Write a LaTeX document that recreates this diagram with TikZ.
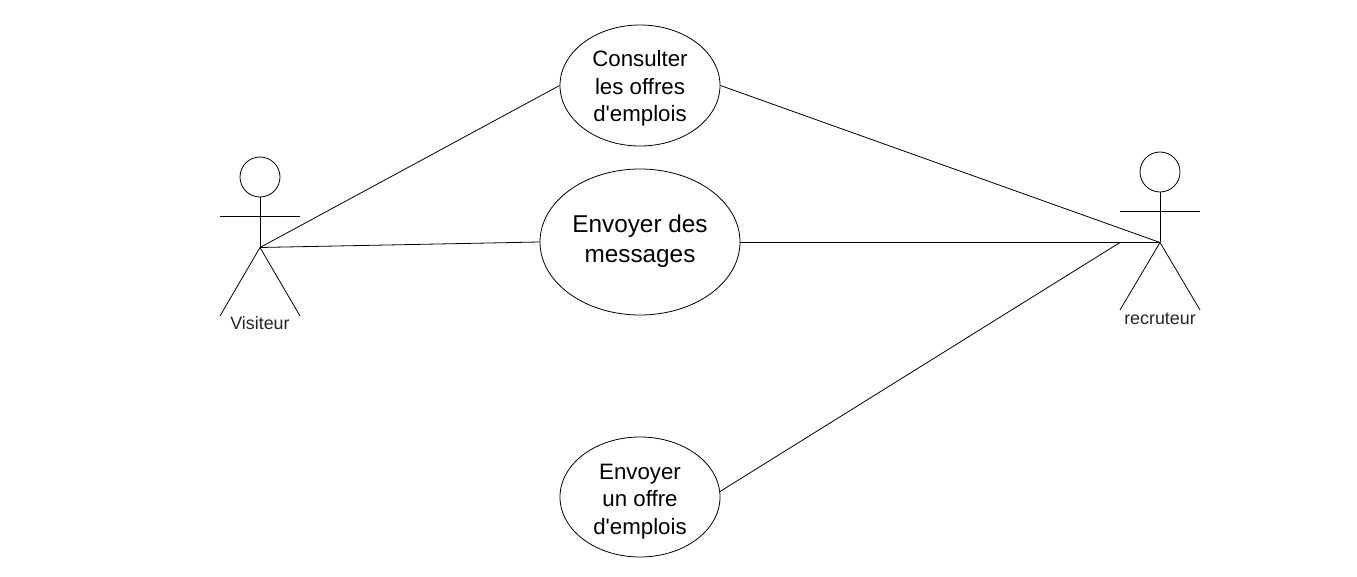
\documentclass[tikz,border=0pt]{standalone}
\usepackage{fontspec}
\setmainfont{Liberation Sans}
\usetikzlibrary{shapes.geometric}
\newcommand{\uctxt}[2]{\raisebox{#1}[0pt][0pt]{\begin{tabular}{@{}c@{}}#2\end{tabular}}}
\tikzset{x=0.75pt,y=-0.75pt,
  uc/.style={draw=black,line width=0.6pt,ellipse,inner sep=0pt,align=center,text=black},
  ln/.style={draw=black,line width=0.6pt},
  lbl/.style={font=\fontsize{13.4pt}{15pt}\selectfont,text=black!85,inner sep=0pt}}
\begin{document}
\begin{tikzpicture}
\useasboundingbox (0,0) rectangle (1357,577);
\node[uc,minimum width=120pt,minimum height=90.75pt,font=\fontsize{16.7pt}{20.5pt}\selectfont] (c) at (640,85.5) {\uctxt{-6.75pt}{Consulter\\les offres\\d\textquotesingle emplois}};
\node[uc,minimum width=150pt,minimum height=109.5pt,font=\fontsize{18.25pt}{22.5pt}\selectfont] (m) at (640,242) {\uctxt{-3.75pt}{Envoyer des\\messages}};
\node[uc,minimum width=120pt,minimum height=90pt,font=\fontsize{16.7pt}{20.5pt}\selectfont] (o) at (640,497) {\uctxt{-7.5pt}{Envoyer\\un offre\\d\textquotesingle emplois}};
% Visiteur
\node[ln,draw,circle,minimum size=30pt,inner sep=0pt] (vh) at (260,177) {};
\coordinate (vb) at (260,247.5);
\coordinate (vl) at (220,216);
\coordinate (vr) at (300,216);
\coordinate (vfl) at (220,316);
\coordinate (vfr) at (300,316);
\draw[ln] (vh.south) -- (vb);
\draw[ln] (vl) -- (vr);
\draw[ln] (vfl) -- (vb) -- (vfr);
\node[lbl] (vt) at (260,323.5) {Visiteur};
% recruteur
\node[ln,draw,circle,minimum size=30pt,inner sep=0pt] (rh) at (1160,172) {};
\coordinate (rb) at (1160,242.5);
\coordinate (rl) at (1120,211.5);
\coordinate (rr) at (1200,211.5);
\coordinate (rfl) at (1120,310);
\coordinate (rfr) at (1200,310);
\draw[ln] (rh.south) -- (rb);
\draw[ln] (rl) -- (rr);
\draw[ln] (rfl) -- (rb) -- (rfr);
\node[lbl] (rt) at (1160,318.5) {recruteur};
% connectors
\coordinate (mr) at (740,242.5);
\coordinate (oe) at (720,491.5);
\coordinate (rj) at (1120,242.5);
\draw[ln] (vb) -- (c.west);
\draw[ln] (vb) -- (m.west);
\draw[ln] (c.east) -- (rb);
\draw[ln] (mr) -- (rb);
\draw[ln] (oe) -- (rj);
\end{tikzpicture}
\end{document}
